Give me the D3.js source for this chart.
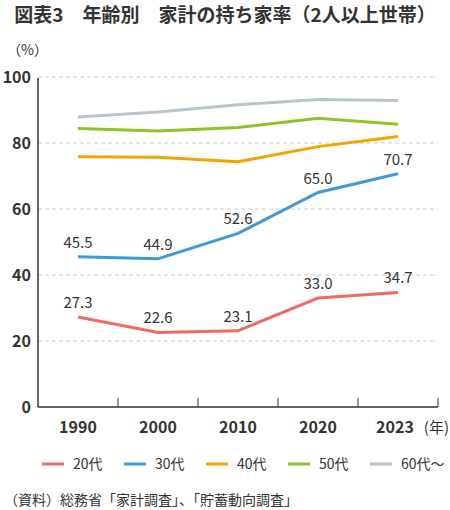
<!DOCTYPE html>
<html>
<head>
<meta charset="utf-8">
<script src="https://cdn.jsdelivr.net/npm/d3@7"></script>
<style>
  body { margin: 0; background: #fff; }
  text { font-family: "Noto Sans CJK JP", "Noto Sans", sans-serif; fill: #333; }
</style>
</head>
<body>
<div class="chart"></div>
<script>
var years = ["1990", "2000", "2010", "2020", "2023"];
var seriesNames = ["20代", "30代", "40代", "50代", "60代〜"];
var colors = ["#f26a5e", "#3f9ad8", "#f2a400", "#8cc425", "#b7c4cb"];
var v20 = [27.3, 22.6, 23.1, 33.0, 34.7];
var v30 = [45.5, 44.9, 52.6, 65.0, 70.7];
var v40 = [75.8, 75.7, 74.3, 78.9, 82.0];
var v50 = [84.4, 83.6, 84.7, 87.5, 85.7];
var v60 = [87.9, 89.4, 91.6, 93.2, 92.9];
var yTicks = [0, 20, 40, 60, 80, 100];
// which series get value labels
var labelled = [true, true, false, false, false];

var allValues = [v20, v30, v40, v50, v60];

var width = 450, height = 510;
var margin = {top: 77, right: 12, bottom: 103, left: 38};

var svg = d3.select(".chart").append("svg")
    .attr("width", width)
    .attr("height", height);

svg.append("text")
    .attr("x", 225)
    .attr("y", 22)
    .attr("text-anchor", "middle")
    .style("font-size", "19px")
    .style("font-weight", "bold")
    .text("図表3　年齢別　家計の持ち家率（2人以上世帯）");

svg.append("text")
    .attr("x", 7)
    .attr("y", 55)
    .style("font-size", "14px")
    .text("（%）");

var x = d3.scaleBand()
    .domain(years)
    .range([margin.left, width - margin.right]);

var y = d3.scaleLinear()
    .domain([0, 100])
    .range([height - margin.bottom, margin.top]);

// grid
svg.append("g")
    .selectAll("line")
    .data(yTicks.filter(function(d) { return d > 0; }))
    .enter().append("line")
    .attr("x1", margin.left)
    .attr("x2", width - margin.right)
    .attr("y1", function(d) { return y(d); })
    .attr("y2", function(d) { return y(d); })
    .style("stroke", "#cccccc")
    .style("stroke-width", 1)
    .style("stroke-dasharray", "4,3");

// y tick labels
svg.append("g")
    .selectAll("text")
    .data(yTicks)
    .enter().append("text")
    .attr("x", margin.left - 7)
    .attr("y", function(d) { return y(d); })
    .attr("dy", "0.36em")
    .attr("text-anchor", "end")
    .style("font-size", "16px")
    .style("font-weight", "bold")
    .text(function(d) { return d; });

// left axis line
svg.append("line")
    .attr("x1", margin.left).attr("x2", margin.left)
    .attr("y1", y(100) + 1).attr("y2", y(0))
    .style("stroke", "#333")
    .style("stroke-width", 1.5);

// bottom axis with inner ticks at band edges
var edges = years.map(function(d) { return x(d); }).concat([x.range()[1]]);
svg.append("line")
    .attr("x1", margin.left).attr("x2", width - margin.right)
    .attr("y1", y(0)).attr("y2", y(0))
    .style("stroke", "#333")
    .style("stroke-width", 1.5);
svg.append("g")
    .selectAll("line")
    .data(edges.slice(1))
    .enter().append("line")
    .attr("x1", function(d) { return d; })
    .attr("x2", function(d) { return d; })
    .attr("y1", y(0))
    .attr("y2", y(0) - 9)
    .style("stroke", "#333")
    .style("stroke-width", 1);

// x labels
svg.append("g")
    .selectAll("text")
    .data(years)
    .enter().append("text")
    .attr("x", function(d, i) { return x(d) + x.bandwidth() / 2 - (i === years.length - 1 ? 3 : 0); })
    .attr("y", 433)
    .attr("text-anchor", "middle")
    .style("font-size", "16px")
    .style("font-weight", "bold")
    .text(function(d) { return d; });

svg.append("text")
    .attr("x", 449)
    .attr("y", 433)
    .attr("text-anchor", "end")
    .style("font-size", "15px")
    .text("(年)");

var line = d3.line()
    .x(function(d, i) { return x(years[i]) + x.bandwidth() / 2; })
    .y(function(d) { return y(d); });

for (var s = allValues.length - 1; s >= 0; s--) {
    svg.append("path")
        .datum(allValues[s])
        .attr("d", line)
        .style("fill", "none")
        .style("stroke", colors[s])
        .style("stroke-width", 3);
}

allValues.forEach(function(vals, s) {
    if (!labelled[s]) return;
    svg.append("g")
        .selectAll("text")
        .data(vals)
        .enter().append("text")
        .attr("x", function(d, i) { return x(years[i]) + x.bandwidth() / 2; })
        .attr("y", function(d) { return y(d) - 9; })
        .attr("text-anchor", "middle")
        .style("font-size", "15px")
        .text(function(d) { return d.toFixed(1); });
});

// legend
var legend = svg.append("g")
    .selectAll("g")
    .data(seriesNames)
    .enter().append("g")
    .attr("transform", function(d, i) { return "translate(" + (42 + i * 82) + ",464)"; });

legend.append("line")
    .attr("x1", 0).attr("x2", 22)
    .style("stroke", function(d, i) { return colors[i]; })
    .style("stroke-width", 3);

legend.append("text")
    .attr("x", 31)
    .attr("dy", "0.35em")
    .style("font-size", "14px")
    .text(function(d) { return d; });

svg.append("text")
    .attr("x", 4)
    .attr("y", 505)
    .style("font-size", "14px")
    .text("（資料）総務省「家計調査」、「貯蓄動向調査」");
</script>
</body>
</html>
